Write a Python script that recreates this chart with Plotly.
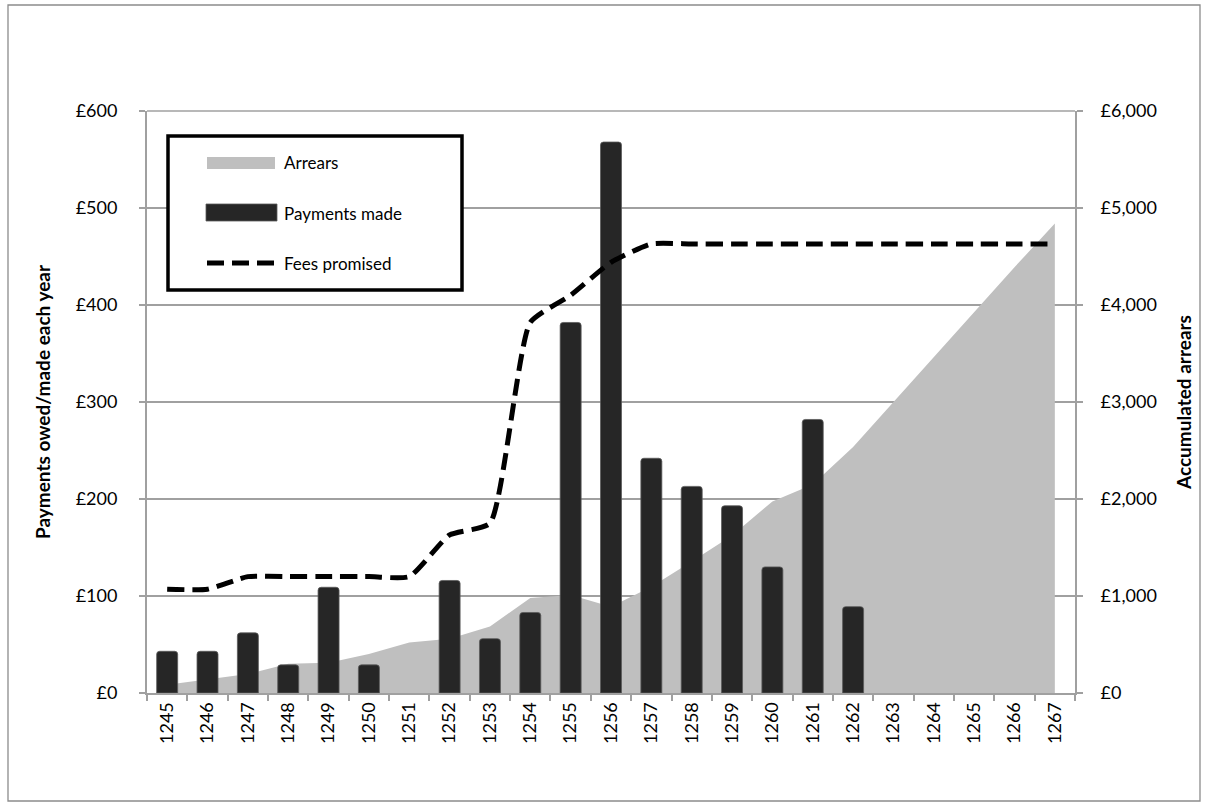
import plotly.graph_objects as go

years = [str(y) for y in range(1245, 1268)]
payments = [43, 43, 62, 29, 109, 29, None, 116, 56, 83, 382, 568, 242, 213, 193, 130, 282, 89,
            None, None, None, None, None]
fees = [107, 107, 120, 120, 120, 120, 120, 163, 175, 382, 410, 444, 463, 463, 463, 463, 463, 463,
        463, 463, 463, 463, 463]
arrears = [85, 137, 195, 301, 312, 401, 520, 560, 685, 980, 1010, 888, 1095, 1355, 1625, 1975,
           2150, 2537, 3000, 3463, 3926, 4389, 4840]

left_ticks = [0, 100, 200, 300, 400, 500, 600]
left_text = ["£0", "£100", "£200", "£300", "£400", "£500", "£600"]
right_ticks = [0, 1000, 2000, 3000, 4000, 5000, 6000]
right_text = ["£0", "£1,000", "£2,000", "£3,000", "£4,000", "£5,000", "£6,000"]

FONT = "Lato"
W, H = 1207, 808
L, R, T, B = 147, 1075, 111, 693


def px(x):
    return (x - L) / (R - L)


def py(y):
    return (B - y) / (B - T)


fig = go.Figure()

# area on the base axis (drawn first, underneath)
fig.add_trace(go.Scatter(
    x=years, y=arrears, yaxis="y", fill="tozeroy", mode="lines",
    line=dict(width=0, color="#bfbfbf"), fillcolor="#bfbfbf",
    name="Arrears", showlegend=False, hoverinfo="skip"))

fig.add_trace(go.Bar(
    x=years, y=payments, yaxis="y2", name="Payments made",
    marker=dict(color="#262626", line=dict(color="#5a5a5a", width=0.8), cornerradius=3),
    showlegend=False))

fig.add_trace(go.Scatter(
    x=years, y=fees, yaxis="y2", mode="lines", name="Fees promised",
    line=dict(color="black", width=5, dash="17px,8px", shape="spline", smoothing=0.5),
    showlegend=False))

grid = "#a0a0a0"
fig.update_layout(
    width=W, height=H,
    margin=dict(l=L, r=W - R, t=T, b=H - B),
    paper_bgcolor="white", plot_bgcolor="white",
    font=dict(family=FONT, color="black", size=18),
    bargap=0.48,
    xaxis=dict(
        type="category", tickangle=-90, tickson="boundaries",
        ticks="outside", ticklen=6, tickcolor=grid, tickwidth=1.5,
        showline=True, linecolor=grid, linewidth=2,
        showgrid=False, tickfont=dict(size=18, family=FONT),
        range=[-0.5, 22.5],
    ),
    yaxis=dict(
        side="right", range=[0, 6000], tickvals=right_ticks, ticktext=right_text,
        showgrid=True, gridcolor=grid, gridwidth=1.5,
        showline=True, linecolor=grid, linewidth=2,
        ticks="outside", ticklen=6, tickcolor=grid, tickwidth=1.5,
        ticklabelstandoff=14,
        tickfont=dict(size=18, family=FONT),
        title=dict(text="<b>Accumulated arrears</b>", font=dict(size=19, family=FONT), standoff=22),
        zeroline=False,
    ),
    yaxis2=dict(
        overlaying="y", side="left", range=[0, 600], tickvals=left_ticks, ticktext=left_text,
        showgrid=False, showline=True, linecolor=grid, linewidth=2,
        ticks="outside", ticklen=6, tickcolor=grid, tickwidth=1.5,
        ticklabelstandoff=18,
        tickfont=dict(size=18, family=FONT),
        title=dict(text="<b>Payments owed/made each year</b>", font=dict(size=19, family=FONT), standoff=20),
        zeroline=False,
    ),
)

shapes = []
# outer chart border
shapes.append(dict(type="rect", xref="paper", yref="paper",
                   x0=px(8), x1=px(1200), y0=py(801), y1=py(5),
                   line=dict(color="#8c8c8c", width=1.3), fillcolor="rgba(0,0,0,0)", layer="below"))
# top border of plot area
shapes.append(dict(type="line", xref="paper", yref="paper", x0=0, x1=1, y0=1, y1=1,
                   line=dict(color=grid, width=1.5)))
# legend box
shapes.append(dict(type="rect", xref="paper", yref="paper",
                   x0=px(168), x1=px(462), y0=py(290), y1=py(136),
                   line=dict(color="black", width=3.5), fillcolor="white"))
shapes.append(dict(type="rect", xref="paper", yref="paper",
                   x0=px(207), x1=px(275), y0=py(169), y1=py(157),
                   line=dict(width=0), fillcolor="#bfbfbf"))
shapes.append(dict(type="rect", xref="paper", yref="paper",
                   x0=px(206), x1=px(277), y0=py(221), y1=py(204),
                   line=dict(color="#5a5a5a", width=0.8), fillcolor="#262626"))
shapes.append(dict(type="line", xref="paper", yref="paper",
                   x0=px(207), x1=px(276), y0=py(263), y1=py(263),
                   line=dict(color="black", width=5, dash="17px,8px")))
fig.update_layout(shapes=shapes)

legend_names = ["Arrears", "Payments made", "Fees promised"]
legend_y = [162, 213, 263]
for name, yy in zip(legend_names, legend_y):
    fig.add_annotation(xref="paper", yref="paper", x=px(282), y=py(yy), text=name,
                       showarrow=False, xanchor="left", yanchor="middle",
                       font=dict(size=17, family=FONT, color="black"))

fig.write_html("out.html")
